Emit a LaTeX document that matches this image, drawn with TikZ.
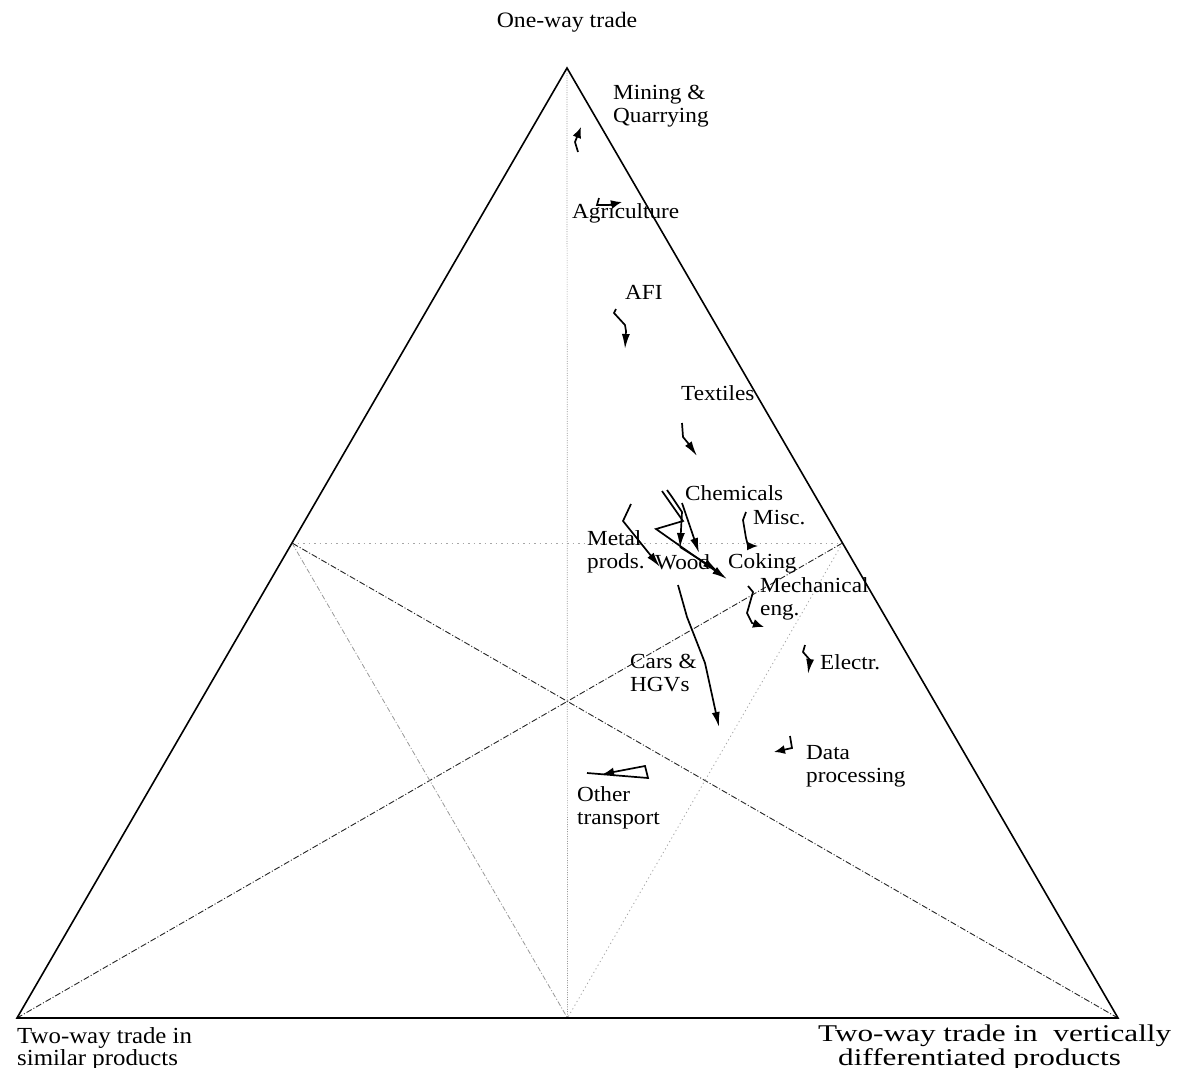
\documentclass[tikz,border=0pt]{standalone}
\usepackage{fontspec}
\usetikzlibrary{arrows.meta,calc}
\newfontfamily\labfont{Liberation Serif}[FakeStretch=1.08]
\newfontfamily\wideserif{Liberation Serif}[FakeStretch=1.3]
\begin{document}
\begin{tikzpicture}[x=1pt,y=-1pt,
  side/.style={line width=1.6pt,black},
  vmed/.style={line width=0.7pt,gray!80,dash pattern=on 1pt off 1.4pt},
  hmid/.style={line width=0.8pt,gray!70,dash pattern=on 1.5pt off 4pt},
  dashdot/.style={line width=0.9pt,black!85,dash pattern=on 6pt off 2pt on 1pt off 2pt},
  dashdotlight/.style={line width=0.8pt,gray!80,dash pattern=on 5pt off 2pt on 1pt off 2pt},
  dotlight/.style={line width=0.8pt,gray!70,dash pattern=on 1.2pt off 3pt},
  traj/.style={line width=1.7pt,black,-{Latex[length=15pt,width=8pt]}},
  trajflat/.style={line width=1.7pt,black,-{Latex[length=11pt,width=9pt]}},
  lab/.style={font=\labfont\fontsize{21.5}{23}\selectfont,inner sep=0pt,anchor=west,align=left},
  toplab/.style={font=\labfont\fontsize{22}{22}\selectfont,inner sep=0pt},
  axislab/.style={font=\labfont\fontsize{23}{17}\selectfont,inner sep=0pt},
  axislabwide/.style={font=\wideserif\fontsize{24}{17}\selectfont,inner sep=0pt}]
\useasboundingbox (0,0) rectangle (1184,1068);
\fill[white] (0,0) rectangle (1184,1068);

% corners of the ternary triangle and midpoints of its sides
\coordinate (A) at (567,68);
\coordinate (B) at (17,1018);
\coordinate (C) at (1118,1018);
\coordinate (mAB) at ($(A)!0.5!(B)$);
\coordinate (mAC) at ($(A)!0.5!(C)$);
\coordinate (mBC) at ($(B)!0.5!(C)$);

% guide lines inside the triangle
\draw[vmed] (A) -- (mBC);
\draw[hmid] (mAB) -- (mAC);
\draw[dashdot] (B) -- (mAC);
\draw[dashdot] (C) -- (mAB);
\draw[dashdotlight] (mAB) -- (mBC);
\draw[dotlight] (mAC) -- (mBC);

% triangle
\draw[side,line join=miter] (A) -- (B) -- (C) -- cycle;

% corner labels
\node[toplab] (top) at (567,22) {One-way trade};
\node[axislab,anchor=base west,align=left] (bl) at (17,1065) {Two-way trade in\\similar products};
\node[axislabwide,anchor=base west,align=left] (br) at (818,1065) {Two-way trade in\ \ vertically\\\hspace*{20pt}differentiated products};

% sector labels
\node[lab] (lMin) at (613,106) {Mining \&\\Quarrying};
\node[lab] (lAgr) at (572,213) {Agriculture};
\node[lab] (lAFI) at (625,292) {AFI};
\node[lab] (lTex) at (681,393) {Textiles};
\node[lab] (lChe) at (685,493) {Chemicals};
\node[lab] (lMis) at (753,518) {Misc.};
\node[lab] (lMet) at (587,552) {Metal\\prods.};
\node[lab] (lWoo) at (655,562) {Wood};
\node[lab] (lCok) at (728,563) {Coking};
\node[lab] (lMec) at (760,599) {Mechanical\\eng.};
\node[lab] (lEle) at (820,662) {Electr.};
\node[lab] (lCar) at (630,673) {Cars \&\\HGVs};
\node[lab] (lDat) at (806,766) {Data\\processing};
\node[lab] (lOth) at (577,808) {Other\\transport};

% trajectories of the sectors
\draw[trajflat] (578,152) -- (575,142) -- (581,127);
\draw[trajflat] (599,198) -- (597,205) -- (609,205) -- (622,202);
\draw[traj] (616,309) -- (614,313) -- (625,325) -- (626,331) -- (625,349);
\draw[traj] (682,423) -- (683,437) -- (688,443) -- (697,456);
\draw[trajflat] (746,512) -- (743,520) -- (746,538) -- (748,546) -- (758,546);
\draw[trajflat] (748,586) -- (753,592) -- (747,613) -- (752,623) -- (764,627);
\draw[traj] (805,645) -- (803,652) -- (810,660) -- (808,674);
\draw[trajflat] (790,736) -- (792,748) -- (774,752);
\draw[traj] (678,585) -- (687,617) -- (705,663) -- (707,672) -- (719,727);
\draw[trajflat] (587,773) -- (648,778) -- (645,766) -- (603,774);
\draw[traj] (631,504) -- (623,521) -- (660,567);
\draw[traj] (662,491) -- (683,521) -- (656,529) -- (727,579);
\draw[traj] (667,490) -- (672,497) -- (682,512) -- (680,548);
\draw[traj] (682,503) -- (699,553);
\draw[traj] (680,547) -- (718,571);
\end{tikzpicture}
\end{document}
